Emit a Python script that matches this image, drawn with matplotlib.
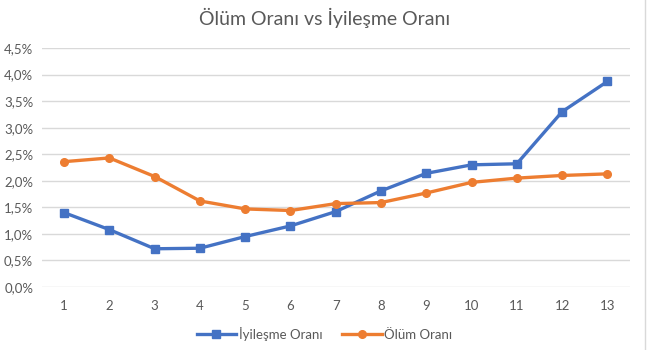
import matplotlib
matplotlib.use("Agg")
import matplotlib.pyplot as plt
from matplotlib.ticker import FuncFormatter, MultipleLocator
from matplotlib.lines import Line2D

categories = [1, 2, 3, 4, 5, 6, 7, 8, 9, 10, 11, 12, 13]
iyilesme = [1.40, 1.08, 0.72, 0.73, 0.95, 1.15, 1.42, 1.81, 2.14, 2.30, 2.32, 3.30, 3.87]
olum = [2.36, 2.43, 2.08, 1.62, 1.47, 1.44, 1.57, 1.59, 1.77, 1.97, 2.05, 2.10, 2.13]

plt.rcParams['font.family'] = ['Lato', 'DejaVu Sans']
gray = '#595959'

fig = plt.figure(figsize=(6.49, 3.5), dpi=100)
ax = fig.add_axes([41.5/649, 63/350, (630-41.5)/649, (287-48)/350])

ax.plot(categories, iyilesme, color='#4472C4', lw=2.4, marker='s', ms=5.5,
        label='İyileşme Oranı', zorder=3)
ax.plot(categories, olum, color='#ED7D31', lw=2.4, marker='o', ms=5.5,
        label='Ölüm Oranı', zorder=3)

ax.set_xlim(0.5, 13.5)
ax.set_ylim(0, 4.5)
ax.yaxis.set_major_locator(MultipleLocator(0.5))
ax.yaxis.set_major_formatter(FuncFormatter(lambda v, p: f"{v:.1f}%".replace('.', ',')))
ax.set_xticks(categories)
ax.set_xticklabels([str(c) for c in categories])
ax.grid(axis='y', color='#D9D9D9', lw=1)
ax.set_axisbelow(True)
for s in ax.spines.values():
    s.set_visible(False)
ax.tick_params(length=0, colors=gray, labelsize=9.5)
ax.tick_params(axis='x', pad=9)
ax.tick_params(axis='y', pad=6)

fig.text(0.5, 18/350 and 1 - 18/350, 'Ölüm Oranı vs İyileşme Oranı', ha='center', va='center',
         fontsize=14, color=gray)

leg = fig.legend(loc='center', bbox_to_anchor=(0.5, 1 - 334/350), ncol=2, frameon=False,
                 numpoints=1, handlelength=3, handletextpad=0.2, columnspacing=1.5,
                 fontsize=9.5)
for t in leg.get_texts():
    t.set_color(gray)

fig.add_artist(Line2D([645/649, 645/649], [0, 1], color='#D9D9D9', lw=1))

fig.savefig('out.png', dpi=100)
